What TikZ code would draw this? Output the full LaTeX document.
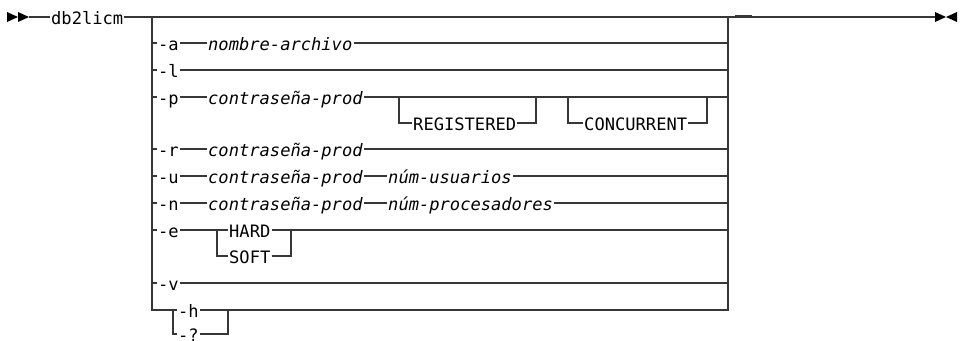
\documentclass[tikz,border=0pt]{standalone}
\usepackage{fontspec}
\usepackage{tikz}
\newfontfamily\rrfont{DejaVu Sans Mono}
\definecolor{rrline}{RGB}{55,55,55}

\tikzset{
  tok/.style={anchor=west, inner xsep=1pt, inner ysep=0pt, text height=14pt, text depth=0pt,
              font=\rrfont\fontsize{17.1}{20}\selectfont},
  arg/.style={tok, font=\rrfont\itshape\fontsize{17.1}{20}\selectfont},
  rail/.style={draw=rrline, line width=1.5pt}
}

\begin{document}
\begin{tikzpicture}[x=1pt, y=-1pt]
    \useasboundingbox (0,0) rectangle (963,340);

    % Start and end marks
    \fill (7,12) -- (18,17) -- (7,22) -- cycle;
    \fill (18,12) -- (29,17) -- (18,22) -- cycle;
    \fill (935,12) -- (946,17) -- (935,22) -- cycle;
    \fill (957,12) -- (946,17) -- (957,22) -- cycle;
    \coordinate (start) at (29,17);
    \coordinate (stop) at (935,17);

    % Branch bars
    \coordinate (L) at (152,17);
    \coordinate (R) at (728,17);

    % Command
    \node[tok] (cmd) at (50,17) {db2licm};
    \draw[rail] (start) -- (cmd.west);
    \draw[rail] (cmd.east) -- (L) -- (R) -- (stop);
    \draw[rrline, line width=2pt] (735,16.2) -- (752,16.2);

    % Option -a
    \node[tok] (a1) at (157,43) {-a};
    \node[arg] (a2) at (207,43) {nombre-archivo};
    \draw[rail] (L |- a1.west) -- (a1.west);
    \draw[rail] (a1.east) -- (a2.west);
    \draw[rail] (a2.east) -- (R |- a2.east);

    % Option -l
    \node[tok] (l1) at (157,70) {-l};
    \draw[rail] (L |- l1.west) -- (l1.west);
    \draw[rail] (l1.east) -- (R |- l1.east);

    % Option -p
    \node[tok] (p1) at (157,97) {-p};
    \node[arg] (p2) at (207,97) {contraseña-prod};
    \draw[rail] (L |- p1.west) -- (p1.west);
    \draw[rail] (p1.east) -- (p2.west);
    \draw[rail] (p2.east) -- (R |- p2.east);

    \coordinate (rg1) at (399,97);
    \coordinate (rg2) at (536,97);
    \node[tok] (reg) at (412,123) {REGISTERED};
    \draw[rail] (rg1) -- (rg1 |- reg.west) -- (reg.west);
    \draw[rail] (reg.east) -- (rg2 |- reg.east) -- (rg2);

    \coordinate (cc1) at (568,97);
    \coordinate (cc2) at (707,97);
    \node[tok] (conc) at (583,123) {CONCURRENT};
    \draw[rail] (cc1) -- (cc1 |- conc.west) -- (conc.west);
    \draw[rail] (conc.east) -- (cc2 |- conc.east) -- (cc2);

    % Option -r
    \node[tok] (r1) at (157,149) {-r};
    \node[arg] (r2) at (207,149) {contraseña-prod};
    \draw[rail] (L |- r1.west) -- (r1.west);
    \draw[rail] (r1.east) -- (r2.west);
    \draw[rail] (r2.east) -- (R |- r2.east);

    % Option -u
    \node[tok] (u1) at (157,176) {-u};
    \node[arg] (u2) at (207,176) {contraseña-prod};
    \node[arg] (u3) at (387,176) {núm-usuarios};
    \draw[rail] (L |- u1.west) -- (u1.west);
    \draw[rail] (u1.east) -- (u2.west);
    \draw[rail] (u2.east) -- (u3.west);
    \draw[rail] (u3.east) -- (R |- u3.east);

    % Option -n
    \node[tok] (n1) at (157,203) {-n};
    \node[arg] (n2) at (207,203) {contraseña-prod};
    \node[arg] (n3) at (387,203) {núm-procesadores};
    \draw[rail] (L |- n1.west) -- (n1.west);
    \draw[rail] (n1.east) -- (n2.west);
    \draw[rail] (n2.east) -- (n3.west);
    \draw[rail] (n3.east) -- (R |- n3.east);

    % Option -e
    \node[tok] (e1) at (157,230) {-e};
    \coordinate (el) at (217,230);
    \coordinate (er) at (291,230);
    \node[tok] (hard) at (228,230) {HARD};
    \node[tok] (soft) at (228,256) {SOFT};
    \draw[rail] (L |- e1.west) -- (e1.west);
    \draw[rail] (e1.east) -- (el) -- (hard.west);
    \draw[rail] (el) -- (el |- soft.west) -- (soft.west);
    \draw[rail] (hard.east) -- (er) -- (R |- er);
    \draw[rail] (soft.east) -- (er |- soft.east) -- (er);

    % Option -v
    \node[tok] (v1) at (157,283) {-v};
    \draw[rail] (L |- v1.west) -- (v1.west);
    \draw[rail] (v1.east) -- (R |- v1.east);

    % Help
    \coordinate (hl) at (173,310);
    \coordinate (hr) at (228,310);
    \node[tok] (h1) at (177,310) {-h};
    \node[tok] (q1) at (177,334) {-?};
    \draw[rail] (L) -- (L |- hl) -- (hl) -- (h1.west);
    \draw[rail] (hl) -- (hl |- q1.west) -- (q1.west);
    \draw[rail] (h1.east) -- (hr) -- (R |- hr) -- (R);
    \draw[rail] (q1.east) -- (hr |- q1.east) -- (hr);
\end{tikzpicture}
\end{document}
